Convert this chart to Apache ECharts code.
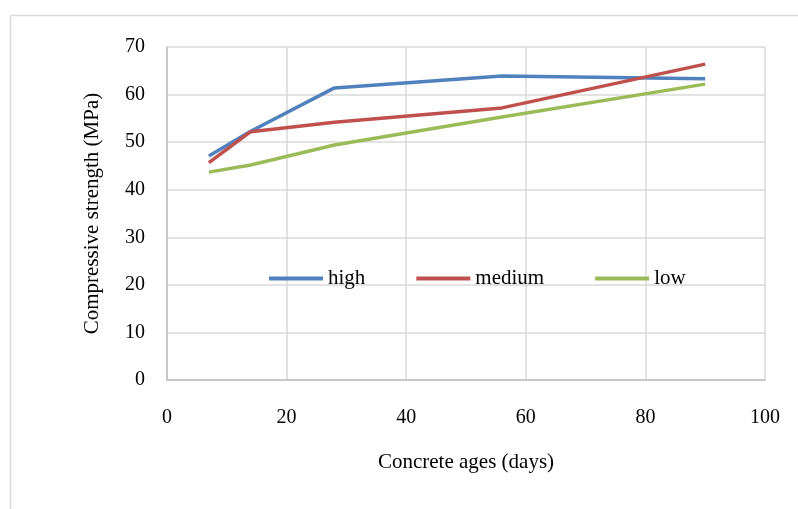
<!DOCTYPE html>
<html lang="en">
<head>
    <meta charset="UTF-8">
    <title>Compressive strength</title>
    <script src="https://cdn.jsdelivr.net/npm/echarts@6/dist/echarts.min.js"></script>
    <style>
        html, body { margin: 0; padding: 0; background: #fff; }
        #chart1 { width: 798px; height: 509px; }
    </style>
</head>
<body>
<div id="chart1"></div>
<script>
    // concrete age (days)
    var ages = [7, 14, 28, 56, 90];
    var high = [47.1, 52.3, 61.4, 63.9, 63.3];
    var medium = [45.7, 52.2, 54.2, 57.2, 66.4];
    var low = [43.7, 45.2, 49.4, 55.3, 62.2];
    var seriesNames = ['high', 'medium', 'low'];
    var colors = ['#4F81BD', '#C0504D', '#9BBB59'];

    function pairs(vals) {
        return ages.map(function (a, i) { return [a, vals[i]]; });
    }

    var font = 'Liberation Serif, Times New Roman, serif';
    var myChart = echarts.init(document.getElementById('chart1'));
    var option1 = {
        animation: false,
        color: colors,
        textStyle: { fontFamily: font },
        graphic: [{
            type: 'rect',
            shape: { x: 10.5, y: 15.5, width: 800, height: 520 },
            style: { fill: 'none', stroke: '#D9D9D9', lineWidth: 1.5 },
            silent: true
        }],
        legend: {
            data: seriesNames,
            top: 263,
            left: 264,
            itemWidth: 54,
            itemHeight: 4,
            itemGap: 51,
            icon: 'rect',
            textStyle: { fontFamily: font, fontSize: 21, color: '#000', padding: [0, 0, 0, 0] }
        },
        grid: { left: 167, right: 33, top: 47, bottom: 129 },
        xAxis: {
            type: 'value',
            min: 0, max: 100, interval: 20,
            name: 'Concrete ages (days)',
            nameLocation: 'middle',
            nameGap: 72,
            nameTextStyle: { fontFamily: font, fontSize: 21, color: '#000' },
            axisLine: { show: true, lineStyle: { color: '#BFBFBF', width: 1.5 } },
            axisTick: { show: false },
            axisLabel: { margin: 28, fontFamily: font, fontSize: 20, color: '#000' },
            splitLine: { show: true, lineStyle: { color: '#D9D9D9', width: 1.5 } }
        },
        yAxis: {
            type: 'value',
            min: 0, max: 70, interval: 10,
            name: 'Compressive strength (MPa)',
            nameLocation: 'middle',
            nameGap: 64,
            nameTextStyle: { fontFamily: font, fontSize: 21, color: '#000' },
            axisLine: { show: true, lineStyle: { color: '#BFBFBF', width: 1.5 } },
            axisTick: { show: false },
            axisLabel: { margin: 22, fontFamily: font, fontSize: 20, color: '#000' },
            splitLine: { show: true, lineStyle: { color: '#D9D9D9', width: 1.5 } }
        },
        series: [
            { name: 'high', type: 'line', data: pairs(high), showSymbol: false, lineStyle: { width: 3.5 } },
            { name: 'medium', type: 'line', data: pairs(medium), showSymbol: false, lineStyle: { width: 3.5 } },
            { name: 'low', type: 'line', data: pairs(low), showSymbol: false, lineStyle: { width: 3.5 } }
        ]
    };
    myChart.setOption(option1);
</script>
</body>
</html>
